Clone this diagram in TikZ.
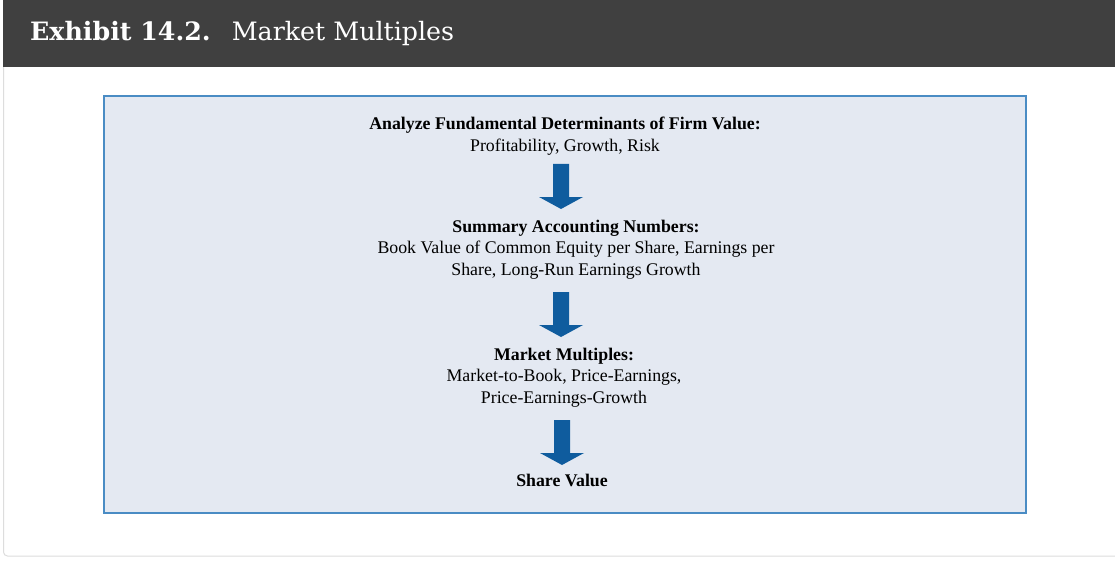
\documentclass[tikz,border=0pt]{standalone}
\usepackage{fontspec}
\setmainfont{Liberation Serif}
\newfontfamily\titlefont{DejaVu Serif}
\usetikzlibrary{positioning}
\definecolor{hdr}{HTML}{404040}
\definecolor{cardline}{HTML}{DDDDDD}
\definecolor{boxfill}{HTML}{E4E9F2}
\definecolor{boxline}{HTML}{4A8CC4}
\definecolor{arrowblue}{HTML}{0F5C9E}
\tikzset{
  lbl/.style={align=center, font=\fontsize{17.8}{21.5}\selectfont, text=black, inner sep=0pt},
}
\newcommand{\bigarrow}[2]{% center x, top y
  \fill[arrowblue] (#1-8,#2) -- (#1+8,#2) -- (#1+8,#2+33) -- (#1+22,#2+33) -- (#1,#2+45) -- (#1-22,#2+33) -- (#1-8,#2+33) -- cycle;}
\begin{document}
\begin{tikzpicture}[x=1pt,y=-1pt]
\useasboundingbox (0,0) rectangle (1115,572);
\fill[white] (0,0) rectangle (1115,572);
% card
\draw[cardline, line width=1pt, rounded corners=4pt] (1116,556) -- (3.5,556) -- (3.5,0);
\fill[hdr] (3,0) rectangle (1115,67);
\node[anchor=base west, text=white, font=\titlefont\fontsize{25.3}{30}\selectfont, inner sep=0pt] (title) at (30,41) {\textbf{Exhibit 14.2.}\hspace{21pt}Market Multiples};
% main box
\draw[boxline, fill=boxfill, line width=2pt] (104,96) rectangle (1026,513);
% texts
\node[lbl, anchor=base] (t1) at (565,151.5) {\textbf{Analyze Fundamental Determinants of Firm Value:}\\Profitability, Growth, Risk};
\node[lbl, anchor=base] (t2) at (576,275) {\textbf{Summary Accounting Numbers:}\\Book Value of Common Equity per Share, Earnings per\\Share, Long-Run Earnings Growth};
\node[lbl, anchor=base] (t3) at (564,403) {\textbf{Market Multiples:}\\Market-to-Book, Price-Earnings,\\Price-Earnings-Growth};
\node[lbl, anchor=base] (t4) at (562,486) {\textbf{Share Value}};
\bigarrow{561}{164}
\bigarrow{561}{292}
\bigarrow{562}{420}
\end{tikzpicture}
\end{document}
